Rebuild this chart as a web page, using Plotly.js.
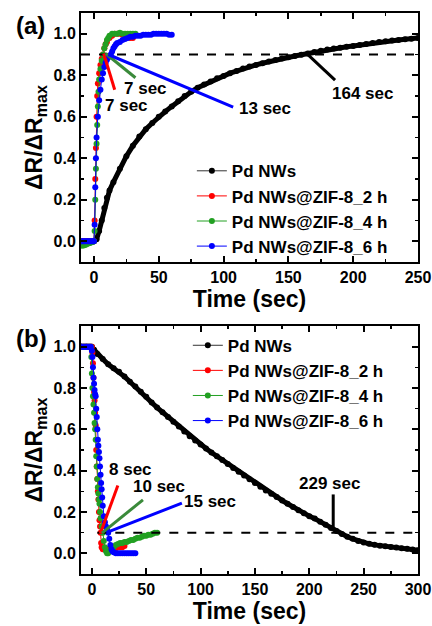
<!DOCTYPE html>
<html><head><meta charset="utf-8">
<script src="https://cdn.plot.ly/plotly-3.0.1.min.js"></script>
<style>html,body{margin:0;padding:0;background:#fff}#chart{width:432px;height:626px}</style>
</head><body><div id="chart"></div>
<script>
// ---------- DATA ----------
const seriesNames = ['Pd NWs', 'Pd NWs@ZIF-8_2 h', 'Pd NWs@ZIF-8_4 h', 'Pd NWs@ZIF-8_6 h'];
const seriesColors = ['#000000', '#ff0000', '#22a022', '#0000ff'];
const markColors = ['#000000', '#ff0000', '#3a8a3a', '#0000ff'];

// Panel (a): response
const aBlackT = [0,2,4,6,8,10,12,15,20,25,30,35,40,45,50,55,60,65,70,75,80,85,90,95,100,105,110,115,120,125,130,135,140,145,150,155,160,165,170,175,180,185,190,195,200,205,210,215,220,225,230,235,240,245,250];
const aBlackV = [0,0.01,0.05,0.1,0.16,0.21,0.245,0.285,0.35,0.41,0.46,0.505,0.54,0.57,0.6,0.625,0.65,0.675,0.7,0.72,0.74,0.755,0.77,0.785,0.797,0.81,0.82,0.832,0.842,0.85,0.858,0.866,0.874,0.881,0.887,0.893,0.899,0.905,0.912,0.918,0.924,0.929,0.933,0.937,0.941,0.946,0.951,0.956,0.96,0.964,0.967,0.97,0.973,0.976,0.979];

const aRedT = [-10,-9,-8,-7,-6,-5,-4,-3,-2,-1,0,0.5,1,1.5,2,2.5,3,4,5,6,7,8,9,10,12,14,16,18,20,22,24,26,28,30];
const aRedV = [0,0,0,0,0,0,0,0,0,0,0,0.1,0.3,0.45,0.6,0.7,0.76,0.81,0.85,0.88,0.9,0.93,0.95,0.96,0.98,0.99,1.0,1.0,1.0,0.995,0.99,0.985,0.98,0.98];

const aGreenT = [-10,-9,-8,-7,-6,-5,-4,-3,-2,-1,0,0.5,1,1.5,2,2.5,3,3.5,4,5,6,7,8,9,10,11,12,14,16,18,20,22,24,26,28,30,32];
const aGreenV = [-0.02,-0.02,-0.02,-0.018,-0.015,-0.012,-0.01,-0.008,-0.005,-0.003,0,0.05,0.2,0.35,0.47,0.56,0.65,0.72,0.78,0.83,0.87,0.9,0.93,0.95,0.97,0.98,0.99,1.0,1.0,1.0,1.005,1.0,1.0,1.0,1.0,1.0,1.0];

const aBlueT = [-10,-9,-8,-7,-6,-5,-4,-3,-2,-1,0,0.5,1,1.5,2,3,4,5,6,7,8,9,10,11,12,13,14,15,16,17,18,20,22,24,26,28,30,32,34,36,38,40,42,44,46,48,50,52,54,56,58,60];
const aBlueV = [0,0,0,0,0,0,0,0,0,0,0,0.08,0.26,0.4,0.5,0.6,0.68,0.73,0.78,0.81,0.84,0.86,0.875,0.885,0.893,0.9,0.915,0.93,0.94,0.95,0.955,0.96,0.97,0.975,0.98,0.985,0.985,0.99,0.99,0.99,0.995,0.995,0.995,0.995,1.0,1.0,1.0,1.0,1.0,1.0,0.995,0.995];

// Panel (b): recovery
const bBlackT = [-10,-5,0,2,5,10,15,20,25,30,35,40,45,50,55,60,65,70,75,80,85,90,95,100,105,110,115,120,125,130,135,140,145,150,155,160,165,170,175,180,185,190,195,200,205,210,215,220,225,230,235,240,245,250,255,260,265,270,275,280,285,290,295,300];
const bBlackV = [1.0,1.0,1.0,0.985,0.965,0.94,0.915,0.895,0.878,0.855,0.83,0.807,0.782,0.757,0.73,0.705,0.683,0.66,0.637,0.614,0.59,0.567,0.546,0.526,0.507,0.488,0.47,0.451,0.432,0.413,0.395,0.376,0.358,0.34,0.322,0.304,0.288,0.272,0.256,0.24,0.224,0.208,0.194,0.18,0.168,0.153,0.138,0.123,0.108,0.094,0.08,0.07,0.06,0.052,0.046,0.041,0.037,0.034,0.031,0.028,0.025,0.022,0.018,0.015];

const bRedT = [-10,-9,-8,-7,-6,-5,-4,-3,-2,-1,0,0.5,1,1.5,2,2.5,3,3.5,4,4.5,5,5.5,6,6.5,7,7.5,8,8.5,9,10,12,14,16,18,20,22,24,26,28,30];
const bRedV = [1,1,1,1,1,1,1,1,1,1,1,0.97,0.92,0.85,0.78,0.74,0.68,0.62,0.5,0.42,0.36,0.3,0.26,0.2,0.16,0.13,0.1,0.05,0.03,0.02,0.02,0.02,0.02,0.025,0.025,0.025,0.03,0.03,0.03,0.035];

const bGreenT = [-10,-9,-8,-7,-6,-5,-4,-3,-2,-1,-0.5,0,0.5,1,1.5,2,2.5,3,3.5,4,4.5,5,5.5,6,6.5,7,7.5,8,9,10,11,12,13,14,15,16,18,20,22,24,26,28,30,32,34,36,38,40,42,44,46,48,50,52,54,56,58,60];
const bGreenV = [1,1,1,1,1,1,1,1,1,1,0.95,0.87,0.8,0.76,0.72,0.68,0.63,0.6,0.55,0.47,0.42,0.36,0.32,0.29,0.26,0.24,0.2,0.17,0.13,0.1,0.06,0.03,0.01,0.0,0.0,0.01,0.02,0.03,0.04,0.045,0.05,0.05,0.055,0.055,0.06,0.065,0.065,0.07,0.075,0.075,0.08,0.085,0.085,0.09,0.09,0.095,0.1,0.1];

const bBlueT = [-10,-9,-8,-7,-6,-5,-4,-3,-2,-1,0,0.5,1,1.5,2,2.5,3,3.5,4,4.5,5,5.5,6,6.5,7,7.5,8,8.5,9,9.5,10,11,12,13,14,15,16,17,18,19,20,22,24,26,28,30,32,34,36,38,40];
const bBlueV = [1,1,1,1,1,1,1,1,1,1,0.98,0.95,0.9,0.85,0.82,0.79,0.77,0.76,0.7,0.66,0.6,0.55,0.52,0.49,0.46,0.42,0.38,0.34,0.31,0.27,0.23,0.18,0.15,0.13,0.115,0.1,0.07,0.04,0.02,0.01,0.005,0,0,0,0,0,0,0,0,0,0];

// Threshold levels (90% response, 10% recovery)
const aThreshold = 0.9;
const bThreshold = 0.1;

// Response-time labels and leader lines
const aLabels = ['7 sec', '7 sec', '13 sec', '164 sec'];
const aLineX0 = [7.5, 9, 11, 164];
const aLineY0 = [0.905, 0.905, 0.9, 0.905];
const aLineX1 = [16, 32, 107.4, 186];
const aLineY1 = [0.73, 0.788, 0.647, 0.777];
const aTextX = [25.3, 39.5, 110.5, 207.3];
const aTextY = [0.652, 0.738, 0.639, 0.712];
const aColorIdx = [1, 2, 3, 0];

const bLabels = ['8 sec', '10 sec', '15 sec', '229 sec'];
const bLineX0 = [7.7, 9.2, 13.9, 222];
const bLineY0 = [0.095, 0.098, 0.101, 0.108];
const bLineX1 = [23.9, 47, 82.8, 222];
const bLineY1 = [0.328, 0.259, 0.243, 0.285];
const bTextX = [35.2, 62, 109, 218.4];
const bTextY = [0.405, 0.322, 0.253, 0.338];
const bColorIdx = [1, 2, 3, 0];

// ---------- CHART ----------
const FONT = 'Arial, "Liberation Sans", sans-serif';
const traces = [];
function addPanel(xs, ys, xa, ya, lg) {
  // legend-only entry for Pd NWs (thin line as in legend)
  traces.push({x: [null], y: [null], type: 'scatter', mode: 'lines+markers', name: seriesNames[0],
    xaxis: xa, yaxis: ya, legend: lg, line: {color: '#333', width: 1}, marker: {color: '#000', size: 6}});
  for (let i = 0; i < 4; i++) {
    const isBlack = i === 0;
    traces.push({
      x: xs[i], y: ys[i], type: 'scatter', mode: 'lines+markers', name: seriesNames[i],
      xaxis: xa, yaxis: ya, legend: lg, showlegend: !isBlack,
      line: {color: seriesColors[i], width: isBlack ? 5 : 1},
      marker: {color: seriesColors[i], size: isBlack ? 6 : 6}
    });
  }
}
addPanel([aBlackT, aRedT, aGreenT, aBlueT], [aBlackV, aRedV, aGreenV, aBlueV], 'x', 'y', 'legend');
addPanel([bBlackT, bRedT, bGreenT, bBlueT], [bBlackV, bRedV, bGreenV, bBlueV], 'x2', 'y2', 'legend2');

const shapes = [];
const annotations = [];
shapes.push({type: 'line', xref: 'x', yref: 'y', x0: -10, x1: 250, y0: aThreshold, y1: aThreshold,
  line: {color: '#000', width: 2, dash: 'dash'}});
shapes.push({type: 'line', xref: 'x2', yref: 'y2', x0: 5, x1: 300, y0: bThreshold, y1: bThreshold,
  line: {color: '#000', width: 2, dash: 'dash'}});
function addLabels(labels, x0, y0, x1, y1, tx, ty, ci, xr, yr) {
  for (let i = 0; i < labels.length; i++) {
    shapes.push({type: 'line', xref: xr, yref: yr, x0: x0[i], y0: y0[i], x1: x1[i], y1: y1[i],
      line: {color: markColors[ci[i]], width: 3}});
    annotations.push({xref: xr, yref: yr, x: tx[i], y: ty[i], text: labels[i], showarrow: false,
      xanchor: 'center', yanchor: 'middle',
      font: {family: FONT, size: 17, weight: 'bold', color: '#000'}});
  }
}
addLabels(aLabels, aLineX0, aLineY0, aLineX1, aLineY1, aTextX, aTextY, aColorIdx, 'x', 'y');
addLabels(bLabels, bLineX0, bLineY0, bLineX1, bLineY1, bTextX, bTextY, bColorIdx, 'x2', 'y2');
annotations[2].xanchor = 'left';

annotations.push({xref: 'paper', yref: 'paper', x: -0.2, y: 0.9786, xanchor: 'left', yanchor: 'middle',
  text: '(a)', showarrow: false, font: {family: FONT, size: 24, weight: 'bold', color: '#000'}});
annotations.push({xref: 'paper', yref: 'paper', x: -0.2, y: 0.4189, xanchor: 'left', yanchor: 'middle',
  text: '(b)', showarrow: false, font: {family: FONT, size: 24, weight: 'bold', color: '#000'}});

function axisBase(extra) {
  return Object.assign({
    showline: true, linecolor: '#000', linewidth: 2, mirror: 'ticks',
    ticks: 'inside', ticklen: 6, tickwidth: 2, tickcolor: '#000',
    showgrid: false, zeroline: false,
    tickfont: {family: FONT, size: 16, weight: 'bold', color: '#000'},
  }, extra);
}
const titleFont = {family: FONT, size: 23, weight: 'bold', color: '#000'};

const layout = {
  width: 432, height: 626,
  margin: {l: 81, r: 14, t: 13, b: 52},
  paper_bgcolor: '#fff', plot_bgcolor: '#fff',
  showlegend: true,
  xaxis: axisBase({anchor: 'y', range: [-10, 250], tick0: 0, dtick: 50,
    minor: {ticks: 'inside', ticklen: 3, tickwidth: 1.5, tickcolor: '#000', dtick: 25, tick0: 0, showgrid: false},
    title: {text: 'Time (sec)', font: titleFont, standoff: 2}}),
  yaxis: axisBase({anchor: 'x', domain: [0.5561, 1], range: [-0.1, 1.1], tick0: 0, dtick: 0.2, tickformat: '.1f',
    minor: {ticks: 'inside', ticklen: 3, tickwidth: 1.5, tickcolor: '#000', dtick: 0.1, tick0: 0, showgrid: false},
    title: {text: 'ΔR/ΔR<sub>max</sub>', font: titleFont, standoff: 4}}),
  xaxis2: axisBase({anchor: 'y2', range: [-10, 300], tick0: 0, dtick: 50,
    minor: {ticks: 'inside', ticklen: 3, tickwidth: 1.5, tickcolor: '#000', dtick: 25, tick0: 0, showgrid: false},
    title: {text: 'Time (sec)', font: titleFont, standoff: 2}}),
  yaxis2: axisBase({anchor: 'x2', domain: [0, 0.4421], range: [-0.1, 1.1], tick0: 0, dtick: 0.2, tickformat: '.1f',
    minor: {ticks: 'inside', ticklen: 3, tickwidth: 1.5, tickcolor: '#000', dtick: 0.1, tick0: 0, showgrid: false},
    title: {text: 'ΔR/ΔR<sub>max</sub>', font: titleFont, standoff: 4}}),
  legend: {x: 0.329, y: 0.750, xanchor: 'left', yanchor: 'top', bgcolor: 'rgba(0,0,0,0)',
    font: {family: FONT, size: 17, weight: 'bold', color: '#000'}, tracegroupgap: 0},
  legend2: {x: 0.317, y: 0.439, xanchor: 'left', yanchor: 'top', bgcolor: 'rgba(0,0,0,0)',
    font: {family: FONT, size: 17, weight: 'bold', color: '#000'}, tracegroupgap: 0},
  shapes: shapes,
  annotations: annotations
};

Plotly.newPlot('chart', traces, layout, {displayModeBar: false, staticPlot: true});
</script></body></html>
